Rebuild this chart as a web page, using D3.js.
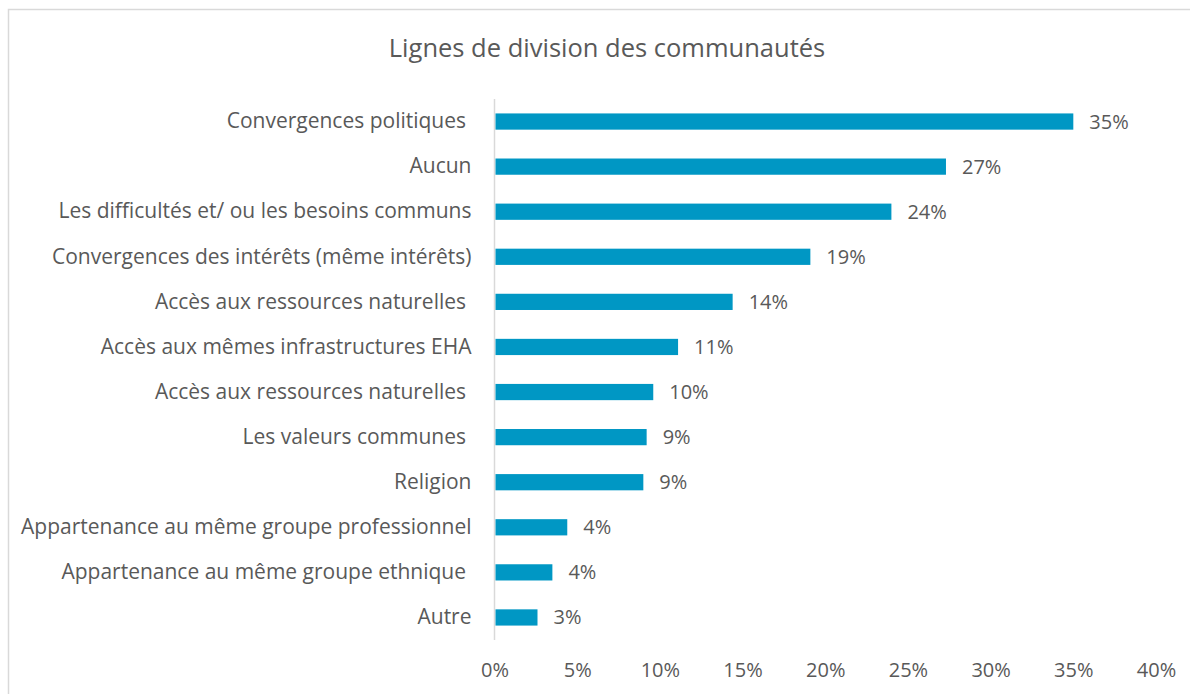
<!DOCTYPE html>
<html>
<head>
<meta charset="utf-8">
<script src="https://cdn.jsdelivr.net/npm/d3@7"></script>
<style>
  body { margin: 0; background: #fff; }
  svg text { font-family: "Open Sans", sans-serif; fill: #595959; white-space: pre; }
</style>
</head>
<body>
<div id="chart"></div>
<script>
// categories, top to bottom
const categories = [
  "Convergences politiques ",
  "Aucun",
  "Les difficultés et/ ou les besoins communs",
  "Convergences des intérêts (même intérêts)",
  "Accès aux ressources naturelles ",
  "Accès aux mêmes infrastructures EHA",
  "Accès aux ressources naturelles ",
  "Les valeurs communes ",
  "Religion",
  "Appartenance au même groupe professionnel",
  "Appartenance au même groupe ethnique ",
  "Autre"
];
// percent values
const values = [35.0, 27.3, 24.0, 19.1, 14.4, 11.1, 9.6, 9.2, 9.0, 4.4, 3.5, 2.6];
const xTicks = [0, 5, 10, 15, 20, 25, 30, 35, 40];

const W = 1190, H = 694;
const margin = { top: 99, right: 34, bottom: 55, left: 494.5 };

const svg = d3.select("#chart")
  .append("svg")
  .attr("width", W)
  .attr("height", H);

// chart frame
svg.append("rect")
  .attr("x", 8.5).attr("y", 9.5)
  .attr("width", W).attr("height", H)
  .attr("fill", "none")
  .attr("stroke", "#d9d9d9")
  .attr("stroke-width", 1.5);

svg.append("text")
  .attr("x", 607)
  .attr("y", 57)
  .attr("text-anchor", "middle")
  .style("font-size", "25.5px")
  .text("Lignes de division des communautés");

const x = d3.scaleLinear()
  .domain([0, 40])
  .range([margin.left, 1156]);

// index domain, since one label appears twice
const y = d3.scaleBand()
  .domain(d3.range(categories.length))
  .range([margin.top, 640])
  .paddingInner(0.64)
  .paddingOuter(0.32);

// x axis labels only
const xAxis = svg.append("g")
  .attr("transform", `translate(0,670)`)
  .call(d3.axisBottom(x).tickValues(xTicks).tickSize(0).tickFormat(d => d + "%"));
xAxis.select(".domain").remove();
xAxis.selectAll("text")
  .attr("dy", "0.35em")
  .attr("y", 0)
  .style("font-size", "20px")
  .style("font-family", "'Open Sans', sans-serif")
  .attr("fill", "#595959");

// category axis
const yAxis = svg.append("g")
  .attr("transform", `translate(${margin.left},0)`)
  .call(d3.axisLeft(y).tickSize(0).tickPadding(23).tickFormat(i => categories[i]));
yAxis.select(".domain").remove();
yAxis.selectAll("text")
  .style("font-size", "21px")
  .style("font-family", "'Open Sans', sans-serif")
  .attr("fill", "#595959");

svg.append("line")
  .attr("x1", margin.left).attr("x2", margin.left)
  .attr("y1", margin.top).attr("y2", 640)
  .attr("stroke", "#d9d9d9")
  .attr("stroke-width", 1.5);

svg.selectAll(".bar")
  .data(values)
  .enter().append("rect")
  .attr("class", "bar")
  .attr("x", x(0) + 1)
  .attr("y", (d, i) => y(i))
  .attr("width", d => x(d) - x(0) - 1)
  .attr("height", y.bandwidth())
  .attr("fill", "#0097c4");

svg.selectAll(".label")
  .data(values)
  .enter().append("text")
  .attr("class", "label")
  .attr("x", d => x(d) + 16)
  .attr("y", (d, i) => y(i) + y.bandwidth() / 2)
  .attr("dy", "0.35em")
  .style("font-size", "20px")
  .text(d => Math.round(d) + "%");
</script>
</body>
</html>
